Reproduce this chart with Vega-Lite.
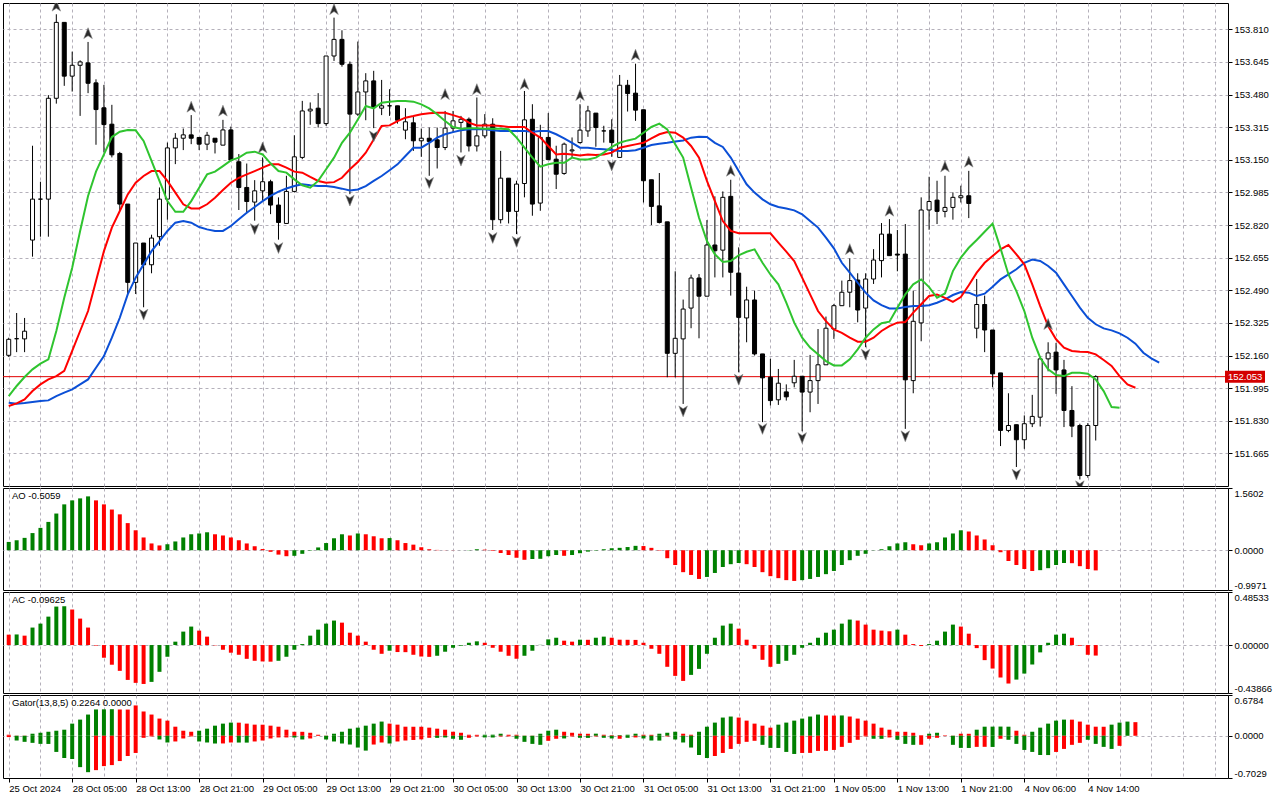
{
"$schema": "https://vega.github.io/schema/vega-lite/v6.json",
"padding": {"left": 2, "top": 2, "right": 0, "bottom": 0},
"background": "#ffffff",
"spacing": 0,
"config": {
  "view": {"stroke": "#000000", "strokeWidth": 1},
  "axis": {"labelFont": "Liberation Sans", "labelFontSize": 9.5, "labelColor": "#000000", "tickColor": "#000000", "tickSize": 4, "domain": false, "gridColor": "#b4b0ba", "gridDash": [3, 3], "gridWidth": 1},
  "text": {"font": "Liberation Sans"}
},
"datasets": {
"cd": [
{"i":0,"o":152.161,"h":152.250,"l":152.153,"c":152.242},
{"i":1,"o":152.245,"h":152.375,"l":152.177,"c":152.245},
{"i":2,"o":152.244,"h":152.350,"l":152.177,"c":152.283},
{"i":3,"o":152.744,"h":153.221,"l":152.660,"c":152.951},
{"i":4,"o":152.951,"h":153.039,"l":152.761,"c":152.951},
{"i":5,"o":152.951,"h":153.477,"l":152.761,"c":153.461},
{"i":6,"o":153.461,"h":153.886,"l":153.434,"c":153.845},
{"i":7,"o":153.845,"h":153.845,"l":153.524,"c":153.573},
{"i":8,"o":153.573,"h":153.697,"l":153.495,"c":153.628},
{"i":9,"o":153.628,"h":153.653,"l":153.372,"c":153.645},
{"i":10,"o":153.640,"h":153.746,"l":153.487,"c":153.537},
{"i":11,"o":153.539,"h":153.557,"l":153.226,"c":153.404},
{"i":12,"o":153.413,"h":153.529,"l":153.187,"c":153.328},
{"i":13,"o":153.330,"h":153.428,"l":153.162,"c":153.175},
{"i":14,"o":153.182,"h":153.190,"l":152.896,"c":152.926},
{"i":15,"o":152.926,"h":152.926,"l":152.471,"c":152.530},
{"i":16,"o":152.530,"h":152.729,"l":152.471,"c":152.729},
{"i":17,"o":152.729,"h":152.729,"l":152.404,"c":152.619},
{"i":18,"o":152.619,"h":152.771,"l":152.576,"c":152.754},
{"i":19,"o":152.761,"h":153.010,"l":152.715,"c":152.951},
{"i":20,"o":152.951,"h":153.237,"l":152.847,"c":153.210},
{"i":21,"o":153.210,"h":153.285,"l":153.128,"c":153.259},
{"i":22,"o":153.259,"h":153.308,"l":153.199,"c":153.276},
{"i":23,"o":153.276,"h":153.376,"l":153.229,"c":153.259},
{"i":24,"o":153.263,"h":153.263,"l":153.199,"c":153.229},
{"i":25,"o":153.229,"h":153.291,"l":153.199,"c":153.274},
{"i":26,"o":153.259,"h":153.259,"l":153.182,"c":153.239},
{"i":27,"o":153.224,"h":153.352,"l":153.224,"c":153.301},
{"i":28,"o":153.301,"h":153.318,"l":153.148,"c":153.148},
{"i":29,"o":153.140,"h":153.179,"l":152.896,"c":153.010},
{"i":30,"o":153.010,"h":153.131,"l":152.880,"c":152.939},
{"i":31,"o":152.936,"h":153.047,"l":152.842,"c":152.993},
{"i":32,"o":152.993,"h":153.162,"l":152.943,"c":153.039},
{"i":33,"o":153.039,"h":153.049,"l":152.875,"c":152.921},
{"i":34,"o":152.921,"h":152.960,"l":152.746,"c":152.833},
{"i":35,"o":152.828,"h":153.069,"l":152.828,"c":152.990},
{"i":36,"o":152.990,"h":153.274,"l":152.985,"c":153.165},
{"i":37,"o":153.162,"h":153.448,"l":153.153,"c":153.397},
{"i":38,"o":153.397,"h":153.440,"l":153.327,"c":153.406},
{"i":39,"o":153.411,"h":153.487,"l":153.313,"c":153.333},
{"i":40,"o":153.333,"h":153.675,"l":153.322,"c":153.675},
{"i":41,"o":153.675,"h":153.869,"l":153.650,"c":153.759},
{"i":42,"o":153.759,"h":153.805,"l":153.621,"c":153.633},
{"i":43,"o":153.633,"h":153.647,"l":152.976,"c":153.381},
{"i":44,"o":153.381,"h":153.748,"l":153.372,"c":153.493},
{"i":45,"o":153.493,"h":153.588,"l":153.350,"c":153.549},
{"i":46,"o":153.549,"h":153.600,"l":153.310,"c":153.414},
{"i":47,"o":153.411,"h":153.554,"l":153.376,"c":153.423},
{"i":48,"o":153.423,"h":153.507,"l":153.372,"c":153.423},
{"i":49,"o":153.423,"h":153.423,"l":153.333,"c":153.350},
{"i":50,"o":153.300,"h":153.411,"l":153.254,"c":153.342},
{"i":51,"o":153.337,"h":153.372,"l":153.195,"c":153.246},
{"i":52,"o":153.246,"h":153.308,"l":153.165,"c":153.259},
{"i":53,"o":153.259,"h":153.313,"l":153.069,"c":153.243},
{"i":54,"o":153.251,"h":153.313,"l":153.106,"c":153.212},
{"i":55,"o":153.212,"h":153.397,"l":153.199,"c":153.310},
{"i":56,"o":153.310,"h":153.397,"l":153.288,"c":153.347},
{"i":57,"o":153.339,"h":153.372,"l":153.187,"c":153.355},
{"i":58,"o":153.355,"h":153.364,"l":153.192,"c":153.220},
{"i":59,"o":153.220,"h":153.465,"l":153.192,"c":153.271},
{"i":60,"o":153.271,"h":153.381,"l":153.259,"c":153.330},
{"i":61,"o":153.330,"h":153.360,"l":152.795,"c":152.847},
{"i":62,"o":152.847,"h":153.195,"l":152.828,"c":153.057},
{"i":63,"o":153.057,"h":153.057,"l":152.828,"c":152.889},
{"i":64,"o":152.889,"h":153.044,"l":152.774,"c":153.027},
{"i":65,"o":153.030,"h":153.498,"l":152.960,"c":153.352},
{"i":66,"o":153.355,"h":153.431,"l":152.867,"c":152.926},
{"i":67,"o":152.931,"h":153.327,"l":152.892,"c":153.263},
{"i":68,"o":153.263,"h":153.386,"l":153.151,"c":153.151},
{"i":69,"o":153.153,"h":153.221,"l":153.002,"c":153.077},
{"i":70,"o":153.081,"h":153.237,"l":153.074,"c":153.229},
{"i":71,"o":153.195,"h":153.263,"l":153.162,"c":153.200},
{"i":72,"o":153.237,"h":153.431,"l":153.232,"c":153.300},
{"i":73,"o":153.296,"h":153.423,"l":153.266,"c":153.397},
{"i":74,"o":153.386,"h":153.386,"l":153.216,"c":153.313},
{"i":75,"o":153.296,"h":153.322,"l":153.237,"c":153.296},
{"i":76,"o":153.300,"h":153.355,"l":153.165,"c":153.237},
{"i":77,"o":153.162,"h":153.579,"l":153.162,"c":153.527},
{"i":78,"o":153.527,"h":153.554,"l":153.394,"c":153.485},
{"i":79,"o":153.487,"h":153.636,"l":153.347,"c":153.401},
{"i":80,"o":153.403,"h":153.403,"l":152.934,"c":153.044},
{"i":81,"o":153.049,"h":153.049,"l":152.820,"c":152.914},
{"i":82,"o":152.917,"h":153.083,"l":152.828,"c":152.833},
{"i":83,"o":152.836,"h":152.836,"l":152.050,"c":152.171},
{"i":84,"o":152.171,"h":152.586,"l":152.050,"c":152.247},
{"i":85,"o":152.244,"h":152.443,"l":151.915,"c":152.395},
{"i":86,"o":152.400,"h":152.569,"l":152.298,"c":152.552},
{"i":87,"o":152.552,"h":152.572,"l":152.247,"c":152.460},
{"i":88,"o":152.460,"h":152.845,"l":152.460,"c":152.719},
{"i":89,"o":152.719,"h":152.965,"l":152.555,"c":152.690},
{"i":90,"o":152.693,"h":152.990,"l":152.555,"c":152.960},
{"i":91,"o":152.965,"h":153.049,"l":152.463,"c":152.581},
{"i":92,"o":152.577,"h":152.707,"l":152.075,"c":152.353},
{"i":93,"o":152.350,"h":152.508,"l":152.227,"c":152.441},
{"i":94,"o":152.441,"h":152.488,"l":152.160,"c":152.168},
{"i":95,"o":152.168,"h":152.168,"l":151.823,"c":152.047},
{"i":96,"o":152.050,"h":152.143,"l":151.907,"c":151.932},
{"i":97,"o":151.936,"h":152.092,"l":151.910,"c":152.020},
{"i":98,"o":151.976,"h":152.014,"l":151.932,"c":151.951},
{"i":99,"o":152.022,"h":152.138,"l":151.999,"c":152.055},
{"i":100,"o":152.055,"h":152.055,"l":151.777,"c":151.975},
{"i":101,"o":151.975,"h":152.163,"l":151.873,"c":152.033},
{"i":102,"o":152.033,"h":152.294,"l":151.915,"c":152.113},
{"i":103,"o":152.113,"h":152.357,"l":152.113,"c":152.298},
{"i":104,"o":152.294,"h":152.421,"l":152.244,"c":152.412},
{"i":105,"o":152.412,"h":152.539,"l":152.412,"c":152.480},
{"i":106,"o":152.480,"h":152.651,"l":152.404,"c":152.539},
{"i":107,"o":152.542,"h":152.576,"l":152.328,"c":152.390},
{"i":108,"o":152.400,"h":152.576,"l":152.202,"c":152.547},
{"i":109,"o":152.547,"h":152.698,"l":152.522,"c":152.643},
{"i":110,"o":152.640,"h":152.830,"l":152.555,"c":152.774},
{"i":111,"o":152.774,"h":152.850,"l":152.665,"c":152.665},
{"i":112,"o":152.673,"h":152.795,"l":152.586,"c":152.668},
{"i":113,"o":152.673,"h":152.825,"l":151.789,"c":152.037},
{"i":114,"o":152.033,"h":152.488,"l":151.969,"c":152.333},
{"i":115,"o":152.325,"h":152.960,"l":152.232,"c":152.896},
{"i":116,"o":152.896,"h":153.064,"l":152.796,"c":152.939},
{"i":117,"o":152.946,"h":153.044,"l":152.825,"c":152.889},
{"i":118,"o":152.889,"h":153.069,"l":152.859,"c":152.909},
{"i":119,"o":152.909,"h":152.985,"l":152.847,"c":152.960},
{"i":120,"o":152.958,"h":153.019,"l":152.934,"c":152.968},
{"i":121,"o":152.968,"h":153.094,"l":152.855,"c":152.929},
{"i":122,"o":152.298,"h":152.547,"l":152.247,"c":152.418},
{"i":123,"o":152.418,"h":152.463,"l":152.177,"c":152.289},
{"i":124,"o":152.289,"h":152.289,"l":151.999,"c":152.067},
{"i":125,"o":152.072,"h":152.072,"l":151.702,"c":151.781},
{"i":126,"o":151.781,"h":151.969,"l":151.772,"c":151.806},
{"i":127,"o":151.810,"h":151.810,"l":151.596,"c":151.734},
{"i":128,"o":151.734,"h":151.857,"l":151.688,"c":151.815},
{"i":129,"o":151.815,"h":151.961,"l":151.798,"c":151.852},
{"i":130,"o":151.848,"h":152.146,"l":151.801,"c":152.143},
{"i":131,"o":152.143,"h":152.227,"l":152.080,"c":152.173},
{"i":132,"o":152.177,"h":152.224,"l":151.966,"c":152.087},
{"i":133,"o":152.087,"h":152.138,"l":151.798,"c":151.882},
{"i":134,"o":151.882,"h":152.005,"l":151.747,"c":151.803},
{"i":135,"o":151.806,"h":151.815,"l":151.533,"c":151.553},
{"i":136,"o":151.553,"h":151.818,"l":151.542,"c":151.806},
{"i":137,"o":151.806,"h":152.060,"l":151.730,"c":152.053}
],
"ln": [
{"i":0,"j":151.921,"t":151.905,"p":151.955},
{"i":1,"j":151.916,"t":151.918,"p":152.006},
{"i":2,"j":151.920,"t":151.938,"p":152.051},
{"i":3,"j":151.925,"t":151.980,"p":152.090},
{"i":4,"j":151.930,"t":152.014,"p":152.119},
{"i":5,"j":151.933,"t":152.039,"p":152.141},
{"i":6,"j":151.955,"t":152.056,"p":152.284},
{"i":7,"j":151.972,"t":152.082,"p":152.452},
{"i":8,"j":151.989,"t":152.183,"p":152.604},
{"i":9,"j":152.014,"t":152.284,"p":152.790},
{"i":10,"j":152.039,"t":152.385,"p":152.967},
{"i":11,"j":152.098,"t":152.537,"p":153.090},
{"i":12,"j":152.157,"t":152.688,"p":153.177},
{"i":13,"j":152.250,"t":152.807,"p":153.265},
{"i":14,"j":152.351,"t":152.891,"p":153.292},
{"i":15,"j":152.469,"t":152.975,"p":153.301},
{"i":16,"j":152.554,"t":153.034,"p":153.299},
{"i":17,"j":152.621,"t":153.068,"p":153.245},
{"i":18,"j":152.688,"t":153.093,"p":153.144},
{"i":19,"j":152.739,"t":153.093,"p":153.043},
{"i":20,"j":152.790,"t":153.043,"p":152.941},
{"i":21,"j":152.832,"t":152.984,"p":152.887},
{"i":22,"j":152.840,"t":152.925,"p":152.887},
{"i":23,"j":152.832,"t":152.904,"p":152.941},
{"i":24,"j":152.810,"t":152.904,"p":153.009},
{"i":25,"j":152.798,"t":152.925,"p":153.076},
{"i":26,"j":152.790,"t":152.958,"p":153.090},
{"i":27,"j":152.790,"t":152.997,"p":153.118},
{"i":28,"j":152.815,"t":153.034,"p":153.147},
{"i":29,"j":152.849,"t":153.059,"p":153.161},
{"i":30,"j":152.882,"t":153.076,"p":153.186},
{"i":31,"j":152.911,"t":153.093,"p":153.191},
{"i":32,"j":152.941,"t":153.110,"p":153.177},
{"i":33,"j":152.967,"t":153.127,"p":153.132},
{"i":34,"j":152.989,"t":153.127,"p":153.093},
{"i":35,"j":153.005,"t":153.110,"p":153.085},
{"i":36,"j":153.017,"t":153.090,"p":153.051},
{"i":37,"j":153.026,"t":153.085,"p":153.021},
{"i":38,"j":153.021,"t":153.063,"p":153.009},
{"i":39,"j":153.017,"t":153.043,"p":153.043},
{"i":40,"j":153.017,"t":153.034,"p":153.102},
{"i":41,"j":153.012,"t":153.037,"p":153.161},
{"i":42,"j":153.004,"t":153.059,"p":153.236},
{"i":43,"j":152.995,"t":153.102,"p":153.287},
{"i":44,"j":153.000,"t":153.139,"p":153.354},
{"i":45,"j":153.017,"t":153.186,"p":153.422},
{"i":46,"j":153.043,"t":153.253,"p":153.410},
{"i":47,"j":153.068,"t":153.321,"p":153.439},
{"i":48,"j":153.097,"t":153.324,"p":153.444},
{"i":49,"j":153.127,"t":153.346,"p":153.447},
{"i":50,"j":153.169,"t":153.363,"p":153.447},
{"i":51,"j":153.211,"t":153.371,"p":153.444},
{"i":52,"j":153.211,"t":153.380,"p":153.430},
{"i":53,"j":153.236,"t":153.385,"p":153.410},
{"i":54,"j":153.262,"t":153.388,"p":153.380},
{"i":55,"j":153.279,"t":153.388,"p":153.346},
{"i":56,"j":153.290,"t":153.376,"p":153.316},
{"i":57,"j":153.299,"t":153.363,"p":153.307},
{"i":58,"j":153.304,"t":153.338,"p":153.309},
{"i":59,"j":153.304,"t":153.324,"p":153.309},
{"i":60,"j":153.304,"t":153.324,"p":153.307},
{"i":61,"j":153.299,"t":153.324,"p":153.307},
{"i":62,"j":153.295,"t":153.321,"p":153.307},
{"i":63,"j":153.295,"t":153.316,"p":153.304},
{"i":64,"j":153.295,"t":153.316,"p":153.262},
{"i":65,"j":153.295,"t":153.316,"p":153.211},
{"i":66,"j":153.292,"t":153.287,"p":153.161},
{"i":67,"j":153.295,"t":153.262,"p":153.115},
{"i":68,"j":153.295,"t":153.220,"p":153.127},
{"i":69,"j":153.279,"t":153.177,"p":153.135},
{"i":70,"j":153.258,"t":153.181,"p":153.135},
{"i":71,"j":153.236,"t":153.177,"p":153.161},
{"i":72,"j":153.211,"t":153.172,"p":153.152},
{"i":73,"j":153.211,"t":153.177,"p":153.152},
{"i":74,"j":153.206,"t":153.174,"p":153.161},
{"i":75,"j":153.203,"t":153.177,"p":153.186},
{"i":76,"j":153.199,"t":153.186,"p":153.216},
{"i":77,"j":153.194,"t":153.211,"p":153.236},
{"i":78,"j":153.194,"t":153.220,"p":153.248},
{"i":79,"j":153.198,"t":153.228,"p":153.257},
{"i":80,"j":153.211,"t":153.236,"p":153.287},
{"i":81,"j":153.225,"t":153.258,"p":153.316},
{"i":82,"j":153.231,"t":153.279,"p":153.333},
{"i":83,"j":153.236,"t":153.290,"p":153.304},
{"i":84,"j":153.242,"t":153.287,"p":153.228},
{"i":85,"j":153.248,"t":153.262,"p":153.161},
{"i":86,"j":153.262,"t":153.220,"p":153.009},
{"i":87,"j":153.267,"t":153.161,"p":152.857},
{"i":88,"j":153.265,"t":153.043,"p":152.739},
{"i":89,"j":153.236,"t":152.941,"p":152.672},
{"i":90,"j":153.215,"t":152.840,"p":152.633},
{"i":91,"j":153.161,"t":152.790,"p":152.638},
{"i":92,"j":153.093,"t":152.778,"p":152.667},
{"i":93,"j":153.026,"t":152.778,"p":152.685},
{"i":94,"j":152.984,"t":152.778,"p":152.697},
{"i":95,"j":152.950,"t":152.778,"p":152.629},
{"i":96,"j":152.925,"t":152.778,"p":152.570},
{"i":97,"j":152.911,"t":152.731,"p":152.520},
{"i":98,"j":152.904,"t":152.685,"p":152.427},
{"i":99,"j":152.894,"t":152.638,"p":152.326},
{"i":100,"j":152.874,"t":152.554,"p":152.250},
{"i":101,"j":152.840,"t":152.469,"p":152.200},
{"i":102,"j":152.807,"t":152.385,"p":152.166},
{"i":103,"j":152.756,"t":152.334,"p":152.132},
{"i":104,"j":152.702,"t":152.292,"p":152.110},
{"i":105,"j":152.629,"t":152.275,"p":152.110},
{"i":106,"j":152.579,"t":152.250,"p":152.141},
{"i":107,"j":152.528,"t":152.230,"p":152.191},
{"i":108,"j":152.478,"t":152.230,"p":152.250},
{"i":109,"j":152.439,"t":152.250,"p":152.292},
{"i":110,"j":152.415,"t":152.284,"p":152.323},
{"i":111,"j":152.398,"t":152.309,"p":152.331},
{"i":112,"j":152.398,"t":152.326,"p":152.402},
{"i":113,"j":152.405,"t":152.329,"p":152.469},
{"i":114,"j":152.410,"t":152.377,"p":152.520},
{"i":115,"j":152.410,"t":152.419,"p":152.545},
{"i":116,"j":152.414,"t":152.461,"p":152.506},
{"i":117,"j":152.427,"t":152.469,"p":152.452},
{"i":118,"j":152.444,"t":152.452,"p":152.474},
{"i":119,"j":152.466,"t":152.431,"p":152.587},
{"i":120,"j":152.481,"t":152.456,"p":152.655},
{"i":121,"j":152.478,"t":152.515,"p":152.705},
{"i":122,"j":152.461,"t":152.579,"p":152.744},
{"i":123,"j":152.473,"t":152.629,"p":152.786},
{"i":124,"j":152.508,"t":152.663,"p":152.827},
{"i":125,"j":152.545,"t":152.697,"p":152.702},
{"i":126,"j":152.570,"t":152.719,"p":152.570},
{"i":127,"j":152.596,"t":152.672,"p":152.486},
{"i":128,"j":152.629,"t":152.621,"p":152.385},
{"i":129,"j":152.645,"t":152.520,"p":152.250},
{"i":130,"j":152.638,"t":152.410,"p":152.149},
{"i":131,"j":152.613,"t":152.309,"p":152.090},
{"i":132,"j":152.579,"t":152.242,"p":152.061},
{"i":133,"j":152.520,"t":152.200,"p":152.056},
{"i":134,"j":152.461,"t":152.183,"p":152.073},
{"i":135,"j":152.402,"t":152.179,"p":152.073},
{"i":136,"j":152.351,"t":152.178,"p":152.068},
{"i":137,"j":152.318,"t":152.166,"p":152.039},
{"i":138,"j":152.297,"t":152.137,"p":151.980},
{"i":139,"j":152.287,"t":152.107,"p":151.899},
{"i":140,"j":152.272,"t":152.056,"p":151.896},
{"i":141,"j":152.250,"t":152.014},
{"i":142,"j":152.220,"t":151.997},
{"i":143,"j":152.174},
{"i":144,"j":152.146},
{"i":145,"j":152.124}
],
"fr": [
{"i":6,"p":153.928,"t":"u"},{"i":10,"p":153.789,"t":"u"},{"i":23,"p":153.417,"t":"u"},{"i":27,"p":153.397,"t":"u"},
{"i":32,"p":153.211,"t":"u"},{"i":41,"p":153.911,"t":"u"},{"i":55,"p":153.481,"t":"u"},{"i":59,"p":153.506,"t":"u"},
{"i":65,"p":153.532,"t":"u"},{"i":72,"p":153.476,"t":"u"},{"i":79,"p":153.680,"t":"u"},{"i":91,"p":153.093,"t":"u"},
{"i":106,"p":152.697,"t":"u"},{"i":111,"p":152.891,"t":"u"},{"i":118,"p":153.115,"t":"u"},{"i":121,"p":153.139,"t":"u"},
{"i":131,"p":152.318,"t":"u"},
{"i":17,"p":152.368,"t":"d"},{"i":31,"p":152.801,"t":"d"},{"i":34,"p":152.705,"t":"d"},{"i":43,"p":152.945,"t":"d"},
{"i":46,"p":153.270,"t":"d"},{"i":53,"p":153.034,"t":"d"},{"i":57,"p":153.147,"t":"d"},{"i":61,"p":152.756,"t":"d"},
{"i":64,"p":152.736,"t":"d"},{"i":76,"p":153.122,"t":"d"},{"i":85,"p":151.879,"t":"d"},{"i":92,"p":152.039,"t":"d"},
{"i":95,"p":151.790,"t":"d"},{"i":100,"p":151.744,"t":"d"},{"i":108,"p":152.166,"t":"d"},{"i":113,"p":151.753,"t":"d"},
{"i":127,"p":151.559,"t":"d"},{"i":135,"p":151.500,"t":"d"}
],
"ao": [
{"i":0,"v":0.208,"c":"g"},{"i":1,"v":0.25,"c":"g"},{"i":2,"v":0.31,"c":"g"},{"i":3,"v":0.43,"c":"g"},{"i":4,"v":0.56,"c":"g"},
{"i":5,"v":0.71,"c":"g"},{"i":6,"v":0.92,"c":"g"},{"i":7,"v":1.15,"c":"g"},{"i":8,"v":1.25,"c":"g"},{"i":9,"v":1.30,"c":"g"},
{"i":10,"v":1.35,"c":"g"},{"i":11,"v":1.25,"c":"r"},{"i":12,"v":1.15,"c":"r"},{"i":13,"v":1.02,"c":"r"},{"i":14,"v":0.90,"c":"r"},
{"i":15,"v":0.68,"c":"r"},{"i":16,"v":0.50,"c":"r"},{"i":17,"v":0.32,"c":"r"},{"i":18,"v":0.17,"c":"r"},{"i":19,"v":0.12,"c":"r"},
{"i":20,"v":0.15,"c":"g"},{"i":21,"v":0.22,"c":"g"},{"i":22,"v":0.32,"c":"g"},{"i":23,"v":0.40,"c":"g"},{"i":24,"v":0.42,"c":"g"},
{"i":25,"v":0.45,"c":"g"},{"i":26,"v":0.40,"c":"r"},{"i":27,"v":0.37,"c":"r"},{"i":28,"v":0.32,"c":"r"},{"i":29,"v":0.25,"c":"r"},
{"i":30,"v":0.17,"c":"r"},{"i":31,"v":0.10,"c":"r"},{"i":32,"v":0.03,"c":"r"},{"i":33,"v":-0.04,"c":"r"},{"i":34,"v":-0.11,"c":"r"},
{"i":35,"v":-0.15,"c":"r"},{"i":36,"v":-0.14,"c":"g"},{"i":37,"v":-0.09,"c":"g"},{"i":38,"v":-0.01,"c":"g"},{"i":39,"v":0.07,"c":"g"},
{"i":40,"v":0.18,"c":"g"},{"i":41,"v":0.30,"c":"g"},{"i":42,"v":0.40,"c":"g"},{"i":43,"v":0.37,"c":"r"},{"i":44,"v":0.42,"c":"g"},
{"i":45,"v":0.40,"c":"r"},{"i":46,"v":0.35,"c":"r"},{"i":47,"v":0.30,"c":"r"},{"i":48,"v":0.305,"c":"g"},{"i":49,"v":0.25,"c":"r"},
{"i":50,"v":0.18,"c":"r"},{"i":51,"v":0.14,"c":"r"},{"i":52,"v":0.075,"c":"r"},{"i":53,"v":0.025,"c":"r"},{"i":54,"v":0.008,"c":"r"},
{"i":55,"v":0.003,"c":"r"},{"i":56,"v":-0.003,"c":"r"},{"i":57,"v":0.001,"c":"g"},{"i":58,"v":0.006,"c":"g"},{"i":59,"v":0.025,"c":"g"},
{"i":60,"v":0.015,"c":"r"},{"i":61,"v":-0.015,"c":"r"},{"i":62,"v":-0.07,"c":"r"},{"i":63,"v":-0.12,"c":"r"},{"i":64,"v":-0.19,"c":"r"},
{"i":65,"v":-0.24,"c":"r"},{"i":66,"v":-0.22,"c":"g"},{"i":67,"v":-0.215,"c":"g"},{"i":68,"v":-0.15,"c":"g"},{"i":69,"v":-0.12,"c":"g"},
{"i":70,"v":-0.14,"c":"r"},{"i":71,"v":-0.12,"c":"g"},{"i":72,"v":-0.075,"c":"g"},{"i":73,"v":-0.035,"c":"g"},{"i":74,"v":-0.01,"c":"g"},
{"i":75,"v":0.025,"c":"g"},{"i":76,"v":0.05,"c":"g"},{"i":77,"v":0.06,"c":"g"},{"i":78,"v":0.08,"c":"g"},{"i":79,"v":0.11,"c":"g"},
{"i":80,"v":0.105,"c":"r"},{"i":81,"v":0.06,"c":"r"},{"i":82,"v":-0.01,"c":"r"},{"i":83,"v":-0.20,"c":"r"},{"i":84,"v":-0.37,"c":"r"},
{"i":85,"v":-0.55,"c":"r"},{"i":86,"v":-0.62,"c":"r"},{"i":87,"v":-0.72,"c":"r"},{"i":88,"v":-0.67,"c":"g"},{"i":89,"v":-0.57,"c":"g"},
{"i":90,"v":-0.42,"c":"g"},{"i":91,"v":-0.35,"c":"g"},{"i":92,"v":-0.32,"c":"g"},{"i":93,"v":-0.35,"c":"r"},{"i":94,"v":-0.42,"c":"r"},
{"i":95,"v":-0.55,"c":"r"},{"i":96,"v":-0.65,"c":"r"},{"i":97,"v":-0.70,"c":"r"},{"i":98,"v":-0.75,"c":"r"},{"i":99,"v":-0.77,"c":"r"},
{"i":100,"v":-0.75,"c":"g"},{"i":101,"v":-0.72,"c":"g"},{"i":102,"v":-0.67,"c":"g"},{"i":103,"v":-0.60,"c":"g"},{"i":104,"v":-0.52,"c":"g"},
{"i":105,"v":-0.37,"c":"g"},{"i":106,"v":-0.25,"c":"g"},{"i":107,"v":-0.14,"c":"g"},{"i":108,"v":-0.09,"c":"g"},{"i":109,"v":-0.005,"c":"g"},
{"i":110,"v":0.025,"c":"g"},{"i":111,"v":0.10,"c":"g"},{"i":112,"v":0.17,"c":"g"},{"i":113,"v":0.20,"c":"g"},{"i":114,"v":0.15,"c":"r"},
{"i":115,"v":0.125,"c":"r"},{"i":116,"v":0.17,"c":"g"},{"i":117,"v":0.20,"c":"g"},{"i":118,"v":0.32,"c":"g"},{"i":119,"v":0.42,"c":"g"},
{"i":120,"v":0.50,"c":"g"},{"i":121,"v":0.47,"c":"r"},{"i":122,"v":0.37,"c":"r"},{"i":123,"v":0.27,"c":"r"},{"i":124,"v":0.125,"c":"r"},
{"i":125,"v":-0.05,"c":"r"},{"i":126,"v":-0.27,"c":"r"},{"i":127,"v":-0.37,"c":"r"},{"i":128,"v":-0.47,"c":"r"},{"i":129,"v":-0.52,"c":"r"},
{"i":130,"v":-0.50,"c":"g"},{"i":131,"v":-0.45,"c":"g"},{"i":132,"v":-0.37,"c":"g"},{"i":133,"v":-0.32,"c":"g"},{"i":134,"v":-0.325,"c":"r"},
{"i":135,"v":-0.40,"c":"r"},{"i":136,"v":-0.47,"c":"r"},{"i":137,"v":-0.5059,"c":"r"}
],
"ac": [
{"i":0,"v":0.095,"c":"r"},{"i":1,"v":0.097,"c":"g"},{"i":2,"v":0.086,"c":"r"},{"i":3,"v":0.160,"c":"g"},{"i":4,"v":0.196,"c":"g"},
{"i":5,"v":0.260,"c":"g"},{"i":6,"v":0.352,"c":"g"},{"i":7,"v":0.355,"c":"g"},{"i":8,"v":0.325,"c":"r"},{"i":9,"v":0.242,"c":"r"},
{"i":10,"v":0.160,"c":"r"},{"i":11,"v":-0.005,"c":"r"},{"i":12,"v":-0.116,"c":"r"},{"i":13,"v":-0.180,"c":"r"},{"i":14,"v":-0.236,"c":"r"},
{"i":15,"v":-0.319,"c":"r"},{"i":16,"v":-0.346,"c":"r"},{"i":17,"v":-0.356,"c":"r"},{"i":18,"v":-0.337,"c":"g"},{"i":19,"v":-0.245,"c":"g"},
{"i":20,"v":-0.107,"c":"g"},{"i":21,"v":0.031,"c":"g"},{"i":22,"v":0.123,"c":"g"},{"i":23,"v":0.169,"c":"g"},{"i":24,"v":0.132,"c":"r"},
{"i":25,"v":0.077,"c":"r"},{"i":26,"v":-0.003,"c":"r"},{"i":27,"v":-0.043,"c":"r"},{"i":28,"v":-0.070,"c":"r"},{"i":29,"v":-0.089,"c":"r"},
{"i":30,"v":-0.126,"c":"r"},{"i":31,"v":-0.144,"c":"r"},{"i":32,"v":-0.150,"c":"r"},{"i":33,"v":-0.152,"c":"r"},{"i":34,"v":-0.144,"c":"g"},
{"i":35,"v":-0.107,"c":"g"},{"i":36,"v":-0.043,"c":"g"},{"i":37,"v":0.009,"c":"g"},{"i":38,"v":0.086,"c":"g"},{"i":39,"v":0.141,"c":"g"},
{"i":40,"v":0.196,"c":"g"},{"i":41,"v":0.224,"c":"g"},{"i":42,"v":0.205,"c":"r"},{"i":43,"v":0.113,"c":"r"},{"i":44,"v":0.086,"c":"r"},
{"i":45,"v":0.031,"c":"r"},{"i":46,"v":-0.043,"c":"r"},{"i":47,"v":-0.080,"c":"r"},{"i":48,"v":-0.052,"c":"g"},{"i":49,"v":-0.064,"c":"r"},
{"i":50,"v":-0.065,"c":"r"},{"i":51,"v":-0.089,"c":"r"},{"i":52,"v":-0.105,"c":"r"},{"i":53,"v":-0.108,"c":"r"},{"i":54,"v":-0.098,"c":"g"},
{"i":55,"v":-0.061,"c":"g"},{"i":56,"v":-0.025,"c":"g"},{"i":57,"v":-0.006,"c":"g"},{"i":58,"v":0.021,"c":"g"},{"i":59,"v":0.034,"c":"g"},
{"i":60,"v":0.021,"c":"r"},{"i":61,"v":-0.025,"c":"r"},{"i":62,"v":-0.061,"c":"r"},{"i":63,"v":-0.098,"c":"r"},{"i":64,"v":-0.126,"c":"r"},
{"i":65,"v":-0.098,"c":"g"},{"i":66,"v":-0.052,"c":"g"},{"i":67,"v":0.002,"c":"g"},{"i":68,"v":0.052,"c":"g"},{"i":69,"v":0.067,"c":"g"},
{"i":70,"v":0.040,"c":"r"},{"i":71,"v":0.031,"c":"r"},{"i":72,"v":0.049,"c":"g"},{"i":73,"v":0.048,"c":"r"},{"i":74,"v":0.067,"c":"g"},
{"i":75,"v":0.077,"c":"g"},{"i":76,"v":0.067,"c":"r"},{"i":77,"v":0.049,"c":"r"},{"i":78,"v":0.048,"c":"r"},{"i":79,"v":0.047,"c":"r"},
{"i":80,"v":0.021,"c":"r"},{"i":81,"v":-0.034,"c":"r"},{"i":82,"v":-0.080,"c":"r"},{"i":83,"v":-0.199,"c":"r"},{"i":84,"v":-0.282,"c":"r"},
{"i":85,"v":-0.328,"c":"r"},{"i":86,"v":-0.273,"c":"g"},{"i":87,"v":-0.218,"c":"g"},{"i":88,"v":-0.080,"c":"g"},{"i":89,"v":0.067,"c":"g"},
{"i":90,"v":0.178,"c":"g"},{"i":91,"v":0.196,"c":"g"},{"i":92,"v":0.150,"c":"r"},{"i":93,"v":0.049,"c":"r"},{"i":94,"v":-0.034,"c":"r"},
{"i":95,"v":-0.135,"c":"r"},{"i":96,"v":-0.199,"c":"r"},{"i":97,"v":-0.172,"c":"g"},{"i":98,"v":-0.144,"c":"g"},{"i":99,"v":-0.089,"c":"g"},
{"i":100,"v":-0.025,"c":"g"},{"i":101,"v":0.021,"c":"g"},{"i":102,"v":0.067,"c":"g"},{"i":103,"v":0.113,"c":"g"},{"i":104,"v":0.141,"c":"g"},
{"i":105,"v":0.196,"c":"g"},{"i":106,"v":0.233,"c":"g"},{"i":107,"v":0.224,"c":"r"},{"i":108,"v":0.187,"c":"r"},{"i":109,"v":0.141,"c":"r"},
{"i":110,"v":0.132,"c":"r"},{"i":111,"v":0.126,"c":"r"},{"i":112,"v":0.141,"c":"g"},{"i":113,"v":0.095,"c":"r"},{"i":114,"v":0.009,"c":"r"},
{"i":115,"v":-0.009,"c":"r"},{"i":116,"v":0.009,"c":"g"},{"i":117,"v":0.040,"c":"g"},{"i":118,"v":0.123,"c":"g"},{"i":119,"v":0.187,"c":"g"},
{"i":120,"v":0.169,"c":"r"},{"i":121,"v":0.104,"c":"r"},{"i":122,"v":-0.028,"c":"r"},{"i":123,"v":-0.138,"c":"r"},{"i":124,"v":-0.215,"c":"r"},
{"i":125,"v":-0.297,"c":"r"},{"i":126,"v":-0.352,"c":"r"},{"i":127,"v":-0.316,"c":"g"},{"i":128,"v":-0.261,"c":"g"},{"i":129,"v":-0.178,"c":"g"},
{"i":130,"v":-0.067,"c":"g"},{"i":131,"v":0.021,"c":"g"},{"i":132,"v":0.095,"c":"g"},{"i":133,"v":0.104,"c":"g"},{"i":134,"v":0.067,"c":"r"},
{"i":135,"v":-0.006,"c":"r"},{"i":136,"v":-0.089,"c":"r"},{"i":137,"v":-0.09625,"c":"r"}
],
"gt": [
{"i":0,"u":0.017,"uc":"r","d":-0.022,"dc":"r"},{"i":1,"u":0.003,"uc":"r","d":-0.079,"dc":"g"},{"i":2,"u":0.003,"uc":"r","d":-0.101,"dc":"g"},
{"i":3,"u":0.034,"uc":"g","d":-0.118,"dc":"g"},{"i":4,"u":0.050,"uc":"g","d":-0.135,"dc":"g"},{"i":5,"u":0.067,"uc":"g","d":-0.136,"dc":"g"},
{"i":6,"u":0.084,"uc":"g","d":-0.269,"dc":"g"},{"i":7,"u":0.101,"uc":"g","d":-0.370,"dc":"g"},{"i":8,"u":0.202,"uc":"g","d":-0.387,"dc":"g"},
{"i":9,"u":0.269,"uc":"g","d":-0.522,"dc":"g"},{"i":10,"u":0.353,"uc":"g","d":-0.606,"dc":"g"},{"i":11,"u":0.438,"uc":"g","d":-0.572,"dc":"r"},
{"i":12,"u":0.440,"uc":"g","d":-0.505,"dc":"r"},{"i":13,"u":0.442,"uc":"g","d":-0.488,"dc":"r"},{"i":14,"u":0.437,"uc":"r","d":-0.421,"dc":"r"},
{"i":15,"u":0.436,"uc":"r","d":-0.337,"dc":"r"},{"i":16,"u":0.505,"uc":"r","d":-0.286,"dc":"r"},{"i":17,"u":0.404,"uc":"r","d":-0.034,"dc":"r"},
{"i":18,"u":0.353,"uc":"r","d":-0.011,"dc":"r"},{"i":19,"u":0.286,"uc":"r","d":-0.062,"dc":"g"},{"i":20,"u":0.252,"uc":"r","d":-0.112,"dc":"g"},
{"i":21,"u":0.151,"uc":"r","d":-0.095,"dc":"r"},{"i":22,"u":0.084,"uc":"r","d":-0.045,"dc":"r"},{"i":23,"u":0.067,"uc":"r","d":-0.011,"dc":"r"},
{"i":24,"u":0.084,"uc":"g","d":-0.095,"dc":"g"},{"i":25,"u":0.118,"uc":"g","d":-0.112,"dc":"g"},{"i":26,"u":0.168,"uc":"g","d":-0.129,"dc":"g"},
{"i":27,"u":0.202,"uc":"g","d":-0.128,"dc":"r"},{"i":28,"u":0.219,"uc":"g","d":-0.112,"dc":"r"},{"i":29,"u":0.218,"uc":"r","d":-0.113,"dc":"g"},
{"i":30,"u":0.202,"uc":"r","d":-0.114,"dc":"g"},{"i":31,"u":0.185,"uc":"r","d":-0.095,"dc":"r"},{"i":32,"u":0.184,"uc":"r","d":-0.079,"dc":"r"},
{"i":33,"u":0.168,"uc":"r","d":-0.045,"dc":"r"},{"i":34,"u":0.151,"uc":"r","d":-0.028,"dc":"r"},{"i":35,"u":0.101,"uc":"r","d":-0.028,"dc":"r"},
{"i":36,"u":0.067,"uc":"r","d":-0.029,"dc":"g"},{"i":37,"u":0.066,"uc":"r","d":-0.062,"dc":"g"},{"i":38,"u":0.050,"uc":"r","d":-0.045,"dc":"r"},
{"i":39,"u":0.017,"uc":"r","d":-0.003,"dc":"r"},{"i":40,"u":0.003,"uc":"r","d":-0.062,"dc":"g"},{"i":41,"u":0.034,"uc":"g","d":-0.095,"dc":"g"},
{"i":42,"u":0.067,"uc":"g","d":-0.129,"dc":"g"},{"i":43,"u":0.118,"uc":"g","d":-0.146,"dc":"g"},{"i":44,"u":0.135,"uc":"g","d":-0.196,"dc":"g"},
{"i":45,"u":0.168,"uc":"g","d":-0.247,"dc":"g"},{"i":46,"u":0.202,"uc":"g","d":-0.146,"dc":"r"},{"i":47,"u":0.236,"uc":"g","d":-0.112,"dc":"r"},
{"i":48,"u":0.202,"uc":"r","d":-0.129,"dc":"g"},{"i":49,"u":0.185,"uc":"r","d":-0.095,"dc":"r"},{"i":50,"u":0.151,"uc":"r","d":-0.079,"dc":"r"},
{"i":51,"u":0.150,"uc":"r","d":-0.070,"dc":"r"},{"i":52,"u":0.150,"uc":"r","d":-0.060,"dc":"r"},{"i":53,"u":0.135,"uc":"r","d":-0.034,"dc":"r"},
{"i":54,"u":0.118,"uc":"r","d":-0.035,"dc":"g"},{"i":55,"u":0.101,"uc":"r","d":-0.028,"dc":"g"},{"i":56,"u":0.067,"uc":"r","d":-0.050,"dc":"g"},
{"i":57,"u":0.050,"uc":"r","d":-0.067,"dc":"g"},{"i":58,"u":0.017,"uc":"r","d":-0.034,"dc":"r"},{"i":59,"u":0.016,"uc":"r","d":-0.011,"dc":"r"},
{"i":60,"u":0.017,"uc":"g","d":-0.028,"dc":"g"},{"i":61,"u":0.018,"uc":"g","d":-0.029,"dc":"g"},{"i":62,"u":0.034,"uc":"g","d":-0.011,"dc":"r"},
{"i":63,"u":0.017,"uc":"r","d":-0.010,"dc":"r"},{"i":64,"u":0.016,"uc":"r","d":-0.050,"dc":"g"},{"i":65,"u":0.003,"uc":"r","d":-0.101,"dc":"g"},
{"i":66,"u":0.003,"uc":"r","d":-0.135,"dc":"g"},{"i":67,"u":0.034,"uc":"g","d":-0.151,"dc":"g"},{"i":68,"u":0.084,"uc":"g","d":-0.084,"dc":"r"},
{"i":69,"u":0.101,"uc":"g","d":-0.050,"dc":"r"},{"i":70,"u":0.067,"uc":"r","d":-0.045,"dc":"g"},{"i":71,"u":0.050,"uc":"r","d":-0.011,"dc":"r"},
{"i":72,"u":0.034,"uc":"r","d":-0.034,"dc":"g"},{"i":73,"u":0.033,"uc":"r","d":-0.035,"dc":"g"},{"i":74,"u":0.035,"uc":"g","d":-0.011,"dc":"r"},
{"i":75,"u":0.017,"uc":"r","d":-0.034,"dc":"g"},{"i":76,"u":0.010,"uc":"r","d":-0.045,"dc":"g"},{"i":77,"u":0.012,"uc":"g","d":-0.050,"dc":"r"},
{"i":78,"u":0.017,"uc":"g","d":-0.034,"dc":"g"},{"i":79,"u":0.034,"uc":"g","d":-0.028,"dc":"r"},{"i":80,"u":0.017,"uc":"r","d":-0.045,"dc":"g"},
{"i":81,"u":0.016,"uc":"r","d":-0.079,"dc":"g"},{"i":82,"u":0.034,"uc":"g","d":-0.080,"dc":"g"},{"i":83,"u":0.050,"uc":"g","d":-0.011,"dc":"r"},
{"i":84,"u":0.067,"uc":"g","d":-0.062,"dc":"g"},{"i":85,"u":0.034,"uc":"r","d":-0.112,"dc":"g"},{"i":86,"u":0.017,"uc":"r","d":-0.196,"dc":"g"},
{"i":87,"u":0.067,"uc":"g","d":-0.320,"dc":"g"},{"i":88,"u":0.151,"uc":"g","d":-0.370,"dc":"g"},{"i":89,"u":0.219,"uc":"g","d":-0.337,"dc":"r"},
{"i":90,"u":0.303,"uc":"g","d":-0.286,"dc":"r"},{"i":91,"u":0.320,"uc":"g","d":-0.219,"dc":"r"},{"i":92,"u":0.303,"uc":"r","d":-0.135,"dc":"r"},
{"i":93,"u":0.252,"uc":"r","d":-0.101,"dc":"r"},{"i":94,"u":0.202,"uc":"r","d":-0.084,"dc":"r"},{"i":95,"u":0.168,"uc":"r","d":-0.151,"dc":"g"},
{"i":96,"u":0.135,"uc":"r","d":-0.202,"dc":"g"},{"i":97,"u":0.185,"uc":"g","d":-0.203,"dc":"g"},{"i":98,"u":0.219,"uc":"g","d":-0.269,"dc":"g"},
{"i":99,"u":0.252,"uc":"g","d":-0.303,"dc":"g"},{"i":100,"u":0.286,"uc":"g","d":-0.286,"dc":"r"},{"i":101,"u":0.320,"uc":"g","d":-0.285,"dc":"r"},
{"i":102,"u":0.353,"uc":"g","d":-0.252,"dc":"r"},{"i":103,"u":0.337,"uc":"r","d":-0.251,"dc":"r"},{"i":104,"u":0.336,"uc":"r","d":-0.236,"dc":"r"},
{"i":105,"u":0.338,"uc":"g","d":-0.185,"dc":"r"},{"i":106,"u":0.320,"uc":"r","d":-0.118,"dc":"r"},{"i":107,"u":0.286,"uc":"r","d":-0.067,"dc":"r"},
{"i":108,"u":0.252,"uc":"r","d":-0.011,"dc":"r"},{"i":109,"u":0.202,"uc":"r","d":-0.050,"dc":"g"},{"i":110,"u":0.135,"uc":"r","d":-0.051,"dc":"g"},
{"i":111,"u":0.101,"uc":"r","d":-0.028,"dc":"r"},{"i":112,"u":0.067,"uc":"r","d":-0.067,"dc":"g"},{"i":113,"u":0.066,"uc":"r","d":-0.135,"dc":"g"},
{"i":114,"u":0.050,"uc":"r","d":-0.151,"dc":"g"},{"i":115,"u":0.010,"uc":"r","d":-0.150,"dc":"r"},{"i":116,"u":0.034,"uc":"g","d":-0.050,"dc":"r"},
{"i":117,"u":0.050,"uc":"g","d":-0.034,"dc":"r"},{"i":118,"u":0.006,"uc":"r","d":-0.005,"dc":"r"},{"i":119,"u":0.003,"uc":"r","d":-0.151,"dc":"g"},
{"i":120,"u":0.034,"uc":"r","d":-0.202,"dc":"g"},{"i":121,"u":0.033,"uc":"r","d":-0.203,"dc":"g"},{"i":122,"u":0.101,"uc":"g","d":-0.185,"dc":"r"},
{"i":123,"u":0.151,"uc":"g","d":-0.184,"dc":"r"},{"i":124,"u":0.152,"uc":"g","d":-0.186,"dc":"g"},{"i":125,"u":0.153,"uc":"g","d":-0.050,"dc":"r"},
{"i":126,"u":0.151,"uc":"g","d":-0.067,"dc":"g"},{"i":127,"u":0.084,"uc":"r","d":-0.135,"dc":"g"},{"i":128,"u":0.017,"uc":"r","d":-0.236,"dc":"g"},
{"i":129,"u":0.067,"uc":"g","d":-0.269,"dc":"g"},{"i":130,"u":0.135,"uc":"g","d":-0.320,"dc":"g"},{"i":131,"u":0.202,"uc":"g","d":-0.321,"dc":"g"},
{"i":132,"u":0.252,"uc":"g","d":-0.269,"dc":"r"},{"i":133,"u":0.269,"uc":"g","d":-0.219,"dc":"r"},{"i":134,"u":0.268,"uc":"r","d":-0.151,"dc":"r"},
{"i":135,"u":0.236,"uc":"r","d":-0.118,"dc":"r"},{"i":136,"u":0.185,"uc":"r","d":-0.067,"dc":"g"},{"i":137,"u":0.151,"uc":"r","d":-0.135,"dc":"g"},
{"i":138,"u":0.150,"uc":"r","d":-0.185,"dc":"g"},{"i":139,"u":0.185,"uc":"g","d":-0.219,"dc":"g"},{"i":140,"u":0.219,"uc":"g","d":-0.168,"dc":"r"},
{"i":141,"u":0.236,"uc":"g"},{"i":142,"u":0.2264,"uc":"r"}
],
"cur": [{"p":152.053,"s":"152.053"}]
},
"vconcat": [
{
 "width": 1225, "height": 483,
 "layer": [
  {"data": {"name": "cur"}, "mark": {"type": "rule", "color": "#e00000", "strokeWidth": 1},
   "encoding": {"y": {"field": "p", "type": "quantitative", "title": null}}},
  {"data": {"name": "cd"}, "mark": {"type": "rule", "color": "#000000", "strokeWidth": 1, "clip": true},
   "encoding": {
    "x": {"field": "i", "type": "quantitative", "title": null,
          "scale": {"domain": [-0.09, 153.04], "nice": false, "zero": false},
          "axis": {"orient": "bottom", "values": [0,4,8,12,16,20,24,28,32,36,40,44,48,52,56,60,64,68,72,76,80,84,88,92,96,100,104,108,112,116,120,124,128,132,136,140,144,148,152], "tickCount": 60, "labels": false, "ticks": false, "grid": true, "title": null}},
    "y": {"field": "l", "type": "quantitative", "title": null,
          "scale": {"domain": [151.5, 153.943], "nice": false, "zero": false},
          "axis": {"orient": "right", "values": [151.665,151.83,151.995,152.16,152.325,152.49,152.655,152.82,152.985,153.15,153.315,153.48,153.645,153.81], "tickCount": 30, "format": ".3f", "grid": true, "labelOverlap": false, "labelPadding": 2, "title": null}},
    "y2": {"field": "h"}
   }},
  {"data": {"name": "cd"}, "mark": {"type": "bar", "size": 4, "stroke": "#000000", "strokeWidth": 1, "clip": true},
   "encoding": {
    "x": {"field": "i", "type": "quantitative", "title": null},
    "y": {"field": "o", "type": "quantitative", "title": null},
    "y2": {"field": "c"},
    "fill": {"condition": {"test": "datum.c >= datum.o", "value": "#ffffff"}, "value": "#000000"}
   }},
  {"data": {"name": "ln"}, "mark": {"type": "line", "color": "#0b4fd6", "strokeWidth": 2, "clip": true},
   "encoding": {"x": {"field": "i", "type": "quantitative", "title": null}, "y": {"field": "j", "type": "quantitative", "title": null}}},
  {"data": {"name": "ln"}, "mark": {"type": "line", "color": "#ff0000", "strokeWidth": 2, "clip": true},
   "encoding": {"x": {"field": "i", "type": "quantitative", "title": null}, "y": {"field": "t", "type": "quantitative", "title": null}}},
  {"data": {"name": "ln"}, "mark": {"type": "line", "color": "#2fc42f", "strokeWidth": 2, "clip": true},
   "encoding": {"x": {"field": "i", "type": "quantitative", "title": null}, "y": {"field": "p", "type": "quantitative", "title": null}}},
  {"data": {"name": "fr"}, "transform": [{"filter": "datum.t == 'u'"}],
   "mark": {"type": "point", "shape": "M0,-1L0.75,0.9L0,0.4L-0.75,0.9Z", "filled": true, "size": 130, "color": "#2b2b2b", "stroke": "#8a8a8a", "strokeWidth": 0.6, "opacity": 1, "clip": true},
   "encoding": {"x": {"field": "i", "type": "quantitative", "title": null}, "y": {"field": "p", "type": "quantitative", "title": null}}},
  {"data": {"name": "fr"}, "transform": [{"filter": "datum.t == 'd'"}],
   "mark": {"type": "point", "shape": "M0,1L0.75,-0.9L0,-0.4L-0.75,-0.9Z", "filled": true, "size": 130, "color": "#2b2b2b", "stroke": "#8a8a8a", "strokeWidth": 0.6, "opacity": 1, "clip": true},
   "encoding": {"x": {"field": "i", "type": "quantitative", "title": null}, "y": {"field": "p", "type": "quantitative", "title": null}}},
  {"data": {"name": "cur"}, "mark": {"type": "rect", "color": "#d40000", "xOffset": 2, "x2Offset": 42, "yOffset": -6, "y2Offset": 6},
   "encoding": {"x": {"datum": 153.04}, "x2": {"datum": 153.04}, "y": {"field": "p", "type": "quantitative", "title": null}, "y2": {"field": "p"}}},
  {"data": {"name": "cur"}, "mark": {"type": "text", "color": "#ffffff", "align": "left", "baseline": "middle", "dx": 5, "fontSize": 9.5, "font": "Liberation Sans"},
   "encoding": {"x": {"datum": 153.04}, "y": {"field": "p", "type": "quantitative", "title": null}, "text": {"field": "s"}}}
 ]
},
{
 "width": 1225, "height": 102,
 "layer": [
  {"data": {"name": "ao"}, "mark": {"type": "bar", "size": 4},
   "encoding": {
    "x": {"field": "i", "type": "quantitative", "title": null,
          "scale": {"domain": [-0.09, 153.04], "nice": false, "zero": false},
          "axis": {"orient": "bottom", "values": [0,4,8,12,16,20,24,28,32,36,40,44,48,52,56,60,64,68,72,76,80,84,88,92,96,100,104,108,112,116,120,124,128,132,136,140,144,148,152], "tickCount": 60, "labels": false, "ticks": false, "grid": true, "title": null}},
    "y": {"field": "v", "type": "quantitative", "title": null,
          "scale": {"domain": [-0.9971, 1.5602], "nice": false, "zero": false},
          "axis": {"orient": "right", "values": [-0.9971, 0, 1.5602], "tickCount": 10, "labelFlush": true, "labelOverlap": false, "grid": true, "gridOpacity": {"condition": {"test": "datum.value == 0", "value": 1}, "value": 0}, "labelExpr": "datum.value < 0 ? '-' + format(-datum.value, '.4f') : format(datum.value, '.4f')", "labelPadding": 2, "title": null}},
    "y2": {"datum": 0},
    "color": {"field": "c", "type": "nominal", "scale": {"domain": ["g", "r"], "range": ["#008000", "#ff0000"]}, "legend": null}
   }},
  {"data": {"values": [{"t": "AO -0.5059"}]}, "mark": {"type": "text", "align": "left", "baseline": "top", "dx": 4, "dy": 3, "fontSize": 9.5, "font": "Liberation Sans", "color": "#000000"},
   "encoding": {"x": {"datum": -0.09}, "y": {"datum": 1.5602}, "text": {"field": "t"}}}
 ]
},
{
 "width": 1225, "height": 101,
 "layer": [
  {"data": {"name": "ac"}, "mark": {"type": "bar", "size": 4},
   "encoding": {
    "x": {"field": "i", "type": "quantitative", "title": null,
          "scale": {"domain": [-0.09, 153.04], "nice": false, "zero": false},
          "axis": {"orient": "bottom", "values": [0,4,8,12,16,20,24,28,32,36,40,44,48,52,56,60,64,68,72,76,80,84,88,92,96,100,104,108,112,116,120,124,128,132,136,140,144,148,152], "tickCount": 60, "labels": false, "ticks": false, "grid": true, "title": null}},
    "y": {"field": "v", "type": "quantitative", "title": null,
          "scale": {"domain": [-0.43866, 0.48533], "nice": false, "zero": false},
          "axis": {"orient": "right", "values": [-0.43866, 0, 0.48533], "tickCount": 10, "labelFlush": true, "labelOverlap": false, "grid": true, "gridOpacity": {"condition": {"test": "datum.value == 0", "value": 1}, "value": 0}, "labelExpr": "datum.value < 0 ? '-' + format(-datum.value, '.5f') : format(datum.value, '.5f')", "labelPadding": 2, "title": null}},
    "y2": {"datum": 0},
    "color": {"field": "c", "type": "nominal", "scale": {"domain": ["g", "r"], "range": ["#008000", "#ff0000"]}, "legend": null}
   }},
  {"data": {"values": [{"t": "AC -0.09625"}]}, "mark": {"type": "text", "align": "left", "baseline": "top", "dx": 4, "dy": 3, "fontSize": 9.5, "font": "Liberation Sans", "color": "#000000"},
   "encoding": {"x": {"datum": -0.09}, "y": {"datum": 0.48533}, "text": {"field": "t"}}}
 ]
},
{
 "width": 1225, "height": 83,
 "layer": [
  {"data": {"name": "gt"}, "mark": {"type": "bar", "size": 4},
   "encoding": {
    "x": {"field": "i", "type": "quantitative", "title": null,
          "scale": {"domain": [-0.09, 153.04], "nice": false, "zero": false},
          "axis": {"orient": "bottom", "values": [0,4,8,12,16,20,24,28,32,36,40,44,48,52,56,60,64,68,72,76,80,84,88,92,96,100,104,108,112,116,120,124,128,132,136,140,144,148,152], "tickCount": 60, "grid": true, "title": null, "labelAlign": "left", "labelFlush": false, "labelOverlap": false, "labelBound": false, "labelPadding": 1,
                   "tickOpacity": {"condition": {"test": "datum.value % 8 == 0 && datum.value <= 136", "value": 1}, "value": 0},
                   "labelExpr": "datum.value % 8 == 0 && datum.value <= 136 ? ['25 Oct 2024','28 Oct 05:00','28 Oct 13:00','28 Oct 21:00','29 Oct 05:00','29 Oct 13:00','29 Oct 21:00','30 Oct 05:00','30 Oct 13:00','30 Oct 21:00','31 Oct 05:00','31 Oct 13:00','31 Oct 21:00','1 Nov 05:00','1 Nov 13:00','1 Nov 21:00','4 Nov 06:00','4 Nov 14:00'][datum.value / 8] : ''"}},
    "y": {"field": "u", "type": "quantitative", "title": null,
          "scale": {"domain": [-0.7029, 0.6784], "nice": false, "zero": false},
          "axis": {"orient": "right", "values": [-0.7029, 0, 0.6784], "tickCount": 10, "labelFlush": true, "labelOverlap": false, "grid": true, "gridOpacity": {"condition": {"test": "datum.value == 0", "value": 1}, "value": 0}, "labelExpr": "datum.value < 0 ? '-' + format(-datum.value, '.4f') : format(datum.value, '.4f')", "labelPadding": 2, "title": null}},
    "y2": {"datum": 0},
    "color": {"field": "uc", "type": "nominal", "scale": {"domain": ["g", "r"], "range": ["#008000", "#ff0000"]}, "legend": null}
   }},
  {"data": {"name": "gt"}, "mark": {"type": "bar", "size": 4},
   "encoding": {
    "x": {"field": "i", "type": "quantitative", "title": null},
    "y": {"field": "d", "type": "quantitative", "title": null},
    "y2": {"datum": 0},
    "color": {"field": "dc", "type": "nominal", "scale": {"domain": ["g", "r"], "range": ["#008000", "#ff0000"]}, "legend": null}
   }},
  {"data": {"values": [{"t": "Gator(13,8,5) 0.2264 0.0000"}]}, "mark": {"type": "text", "align": "left", "baseline": "top", "dx": 4, "dy": 3, "fontSize": 9.5, "font": "Liberation Sans", "color": "#000000"},
   "encoding": {"x": {"datum": -0.09}, "y": {"datum": 0.6784}, "text": {"field": "t"}}}
 ]
}
]
}
